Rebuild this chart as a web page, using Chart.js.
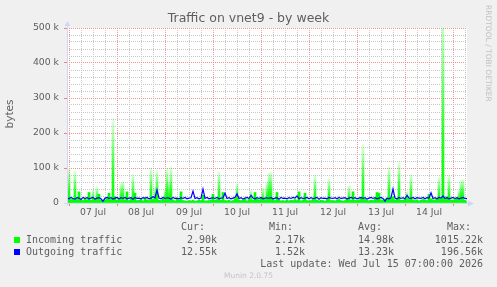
<!DOCTYPE html>
<html>
<head>
<meta charset="utf-8">
<title>Traffic on vnet9 - by week</title>
<script src="https://cdn.jsdelivr.net/npm/chart.js@4.4.1/dist/chart.umd.min.js"></script>
<style>
  html, body { margin: 0; padding: 0; background: #f0f0f0; }
  canvas { display: block; }
</style>
</head>
<body>
<canvas id="traffic" width="497" height="287"></canvas>
<script>
'use strict';

// ─── Data ─────────────────────────────────────────────────────────────────────
// hours counted from 07 Jul 00:00, one sample per hour (06 Jul 23:00 .. 15 Jul 07:00)
const FIRST_HOUR = -1;
const LAST_HOUR = 199;
const DAY_LABELS = ['07 Jul', '08 Jul', '09 Jul', '10 Jul', '11 Jul', '12 Jul', '13 Jul', '14 Jul'];
const HOUR_TICKS = [0, 6, 12, 18, 24, 30, 36, 42, 48, 54, 60, 66, 72, 78, 84, 90, 96, 102,
  108, 114, 120, 126, 132, 138, 144, 150, 156, 162, 168, 174, 180, 186, 192, 198];
const Y_TICKS = [0, 20, 40, 60, 80, 100, 120, 140, 160, 180, 200, 220, 240, 260, 280, 300,
  320, 340, 360, 380, 400, 420, 440, 460, 480, 500];

// kbytes per second
const INCOMING = [
  8, 98, 10, 12, 92, 10, 32, 9, 7, 14, 9, 30, 8, 37, 11, 46, 25, 8, 6, 9, 12, 28, 10, 242, 18,
  8, 11, 57, 62, 9, 32, 7, 12, 82, 28, 7, 8, 10, 6, 13, 9, 7, 100, 10, 45, 94, 8, 7, 12,
  40, 100, 60, 104, 9, 6, 11, 8, 32, 7, 6, 5, 7, 6, 8, 5, 6, 8, 7, 22, 6, 6, 7, 9,
  25, 8, 10, 90, 8, 30, 7, 6, 8, 5, 7, 12, 56, 9, 7, 8, 11, 6, 10, 37, 8, 30, 12, 9,
  14, 43, 10, 60, 85, 90, 11, 7, 30, 8, 6, 7, 5, 8, 6, 8, 7, 10, 7, 32, 6, 9, 28, 7,
  6, 7, 11, 80, 8, 6, 8, 7, 5, 9, 70, 7, 7, 6, 8, 10, 7, 5, 7, 12, 51, 8, 32, 8,
  7, 9, 14, 168, 10, 8, 6, 8, 7, 12, 30, 28, 9, 8, 11, 14, 104, 12, 18, 9, 10, 118, 8, 8,
  12, 35, 10, 82, 9, 7, 9, 6, 8, 10, 8, 7, 25, 12, 9, 9, 14, 75, 12, 560, 10, 18, 80, 9,
  8, 11, 14, 38, 65, 68, 8, 3
];
const OUTGOING = [
  15, 12, 16, 13, 11, 15, 14, 10, 16, 13, 15, 12, 14, 16, 11, 14, 15, 12, 5, 14, 16, 13, 15, 11, 14,
  16, 12, 15, 13, 16, 12, 14, 15, 11, 16, 13, 14, 12, 15, 14, 16, 12, 14, 18, 15, 37, 14, 12, 16,
  13, 15, 14, 11, 16, 13, 14, 12, 15, 13, 16, 12, 14, 15, 34, 13, 15, 12, 14, 40, 13, 16, 12, 14,
  15, 13, 16, 12, 14, 15, 28, 13, 15, 12, 14, 16, 26, 13, 15, 11, 14, 16, 13, 22, 14, 12, 15, 13,
  16, 12, 14, 15, 13, 16, 12, 14, 15, 11, 16, 13, 14, 12, 15, 13, 16, 14, 20, 12, 15, 13, 14, 16,
  12, 15, 13, 14, 16, 11, 15, 13, 14, 12, 16, 14, 13, 15, 12, 16, 13, 14, 15, 12, 14, 16, 13, 15,
  12, 14, 16, 13, 15, 11, 14, 16, 13, 15, 12, 14, 16, 13, 5, 14, 12, 15, 40, 14, 12, 16, 13, 15,
  12, 22, 14, 13, 16, 12, 15, 14, 13, 16, 12, 15, 14, 29, 13, 15, 12, 16, 14, 20, 13, 15, 12, 14,
  16, 13, 15, 12, 14, 16, 13, 12.5
];

const SERIES_NAMES  = ['Incoming traffic', 'Outgoing traffic'];
const SERIES_COLORS = ['#00ff00', '#0000ff'];
const STAT_HEADS = ['Cur:', 'Min:', 'Avg:', 'Max:'];
const STAT_CUR = ['2.90k', '12.55k'];
const STAT_MIN = ['2.17k', '1.52k'];
const STAT_AVG = ['14.98k', '13.23k'];
const STAT_MAX = ['1015.22k', '196.56k'];
const LAST_UPDATE = 'Last update: Wed Jul 15 07:00:00 2026';

// ─── Look ─────────────────────────────────────────────────────────────────────
const FONT_COLOR = '#5e5e5e';
const AXIS_COLOR = '#cfd6f8';
const MAJOR_GRID = '#eb9595';
const MINOR_GRID = '#c8c8c8';
const SANS = "'DejaVu Sans', sans-serif";
const MONO = "'DejaVu Sans Mono', monospace";

// tall bars fade out towards their top, short ones stay solid
function fadeGreen(c) {
  const chart = c.chart;
  if (!chart.chartArea || !c.parsed) return SERIES_COLORS[0];
  const y = chart.scales.y;
  const base = y.getPixelForValue(0);
  const top = y.getPixelForValue(c.parsed.y);
  if (!(base - top > 12)) return SERIES_COLORS[0];
  const g = chart.ctx.createLinearGradient(0, base, 0, top);
  g.addColorStop(0, 'rgba(0,255,0,1)');
  g.addColorStop(0.35, 'rgba(0,255,0,0.85)');
  g.addColorStop(1, 'rgba(0,255,0,0.1)');
  return g;
}

const isMajorHour = c => !!c.tick && c.tick.value % 24 === 0;
const isMajorY = c => !!c.tick && c.tick.value % 100 === 0;

// ─── Frame, axes and text (rrdtool style) ─────────────────────────────────────
const frame = {
  id: 'frame',
  beforeDraw(chart) {
    const { ctx, chartArea: a } = chart;
    ctx.save();
    ctx.fillStyle = '#f0f0f0';
    ctx.fillRect(0, 0, chart.width, chart.height);
    ctx.fillStyle = '#ffffff';
    ctx.fillRect(a.left, a.top, a.right - a.left, a.bottom - a.top);
    ctx.restore();
  },
  afterDatasetsDraw(chart) {
    const { ctx, chartArea: a } = chart;
    ctx.save();
    ctx.strokeStyle = AXIS_COLOR;
    ctx.fillStyle = AXIS_COLOR;
    ctx.lineWidth = 1;
    ctx.beginPath();
    ctx.moveTo(a.left - 3, a.bottom + 0.5);
    ctx.lineTo(a.right + 2, a.bottom + 0.5);
    ctx.moveTo(a.left + 0.5, a.bottom + 3);
    ctx.lineTo(a.left + 0.5, a.top - 3);
    ctx.stroke();
    ctx.beginPath();
    ctx.moveTo(a.right + 7, a.bottom + 0.5);
    ctx.lineTo(a.right + 1, a.bottom - 2.5);
    ctx.lineTo(a.right + 1, a.bottom + 3.5);
    ctx.fill();
    ctx.beginPath();
    ctx.moveTo(a.left + 0.5, a.top - 7);
    ctx.lineTo(a.left - 2.5, a.top - 2);
    ctx.lineTo(a.left + 3.5, a.top - 2);
    ctx.fill();
    ctx.restore();
  },
  afterDraw(chart) {
    const ctx = chart.ctx;
    ctx.save();
    ctx.fillStyle = FONT_COLOR;
    ctx.textBaseline = 'middle';

    ctx.font = '12.5px ' + SANS;
    ctx.textAlign = 'center';
    ctx.fillText('Traffic on vnet9 - by week', 248.5, 19);

    ctx.save();
    ctx.translate(10.5, 114);
    ctx.rotate(-Math.PI / 2);
    ctx.font = '10.5px ' + SANS;
    ctx.fillText('bytes', 0, 0);
    ctx.restore();

    ctx.save();
    ctx.translate(488, 5);
    ctx.rotate(Math.PI / 2);
    ctx.font = '7.5px ' + SANS;
    ctx.textAlign = 'left';
    ctx.fillStyle = '#c0c0c0';
    ctx.fillText('RRDTOOL / TOBI OETIKER', 0, 0);
    ctx.restore();

    // legend
    ctx.font = '10px ' + MONO;
    ctx.textAlign = 'left';
    const headX = [181, 269, 358, 447];
    const valX = [217, 305, 394, 483];
    STAT_HEADS.forEach((h, i) => ctx.fillText(h, headX[i], 227.5));
    const cols = [STAT_CUR, STAT_MIN, STAT_AVG, STAT_MAX];
    SERIES_NAMES.forEach((name, r) => {
      const yc = 240 + r * 12.2;
      ctx.fillStyle = SERIES_COLORS[r];
      ctx.fillRect(14, Math.round(yc) - 3, 6, 6);
      ctx.fillStyle = FONT_COLOR;
      ctx.textAlign = 'left';
      ctx.fillText(name, 26, yc);
      ctx.textAlign = 'right';
      cols.forEach((col, i) => ctx.fillText(col[r], valX[i], yc));
    });
    ctx.textAlign = 'right';
    ctx.fillText(LAST_UPDATE, 483, 264);

    ctx.font = '7.5px ' + SANS;
    ctx.textAlign = 'center';
    ctx.fillStyle = '#c4c4c4';
    ctx.fillText('Munin 2.0.75', 248.5, 276);
    ctx.restore();
  }
};

// ─── Chart ────────────────────────────────────────────────────────────────────
const chart = new Chart(document.getElementById('traffic'), {
  type: 'bar',
  data: {
    datasets: [
      {
        type: 'line',
        label: SERIES_NAMES[1],
        data: OUTGOING.map((v, i) => ({ x: FIRST_HOUR + i, y: v })),
        borderColor: SERIES_COLORS[1],
        borderWidth: 1.2,
        pointRadius: 0,
        tension: 0,
        fill: false,
        order: 0,
      },
      {
        type: 'bar',
        label: SERIES_NAMES[0],
        data: INCOMING.map((v, i) => ({ x: FIRST_HOUR + i, y: v })),
        backgroundColor: fadeGreen,
        borderWidth: 0,
        barPercentage: 1,
        categoryPercentage: 1,
        order: 1,
      }
    ]
  },
  options: {
    responsive: false,
    animation: false,
    events: [],
    layout: { padding: { left: 0, top: 28, right: 30, bottom: 64 } },
    plugins: {
      legend: { display: false },
      tooltip: { enabled: false },
      title: { display: false }
    },
    scales: {
      x: {
        type: 'linear',
        min: FIRST_HOUR,
        max: LAST_HOUR,
        offset: false,
        afterBuildTicks: s => { s.ticks = HOUR_TICKS.map(v => ({ value: v })); },
        afterFit: s => { s.height = 20; },
        grid: {
          offset: false,
          lineWidth: 1,
          color: c => isMajorHour(c) ? MAJOR_GRID : MINOR_GRID,
          tickLength: 3,
          tickColor: c => isMajorHour(c) ? '#f08080' : 'rgba(0,0,0,0)',
        },
        border: { display: false, dash: [1, 1] },
        ticks: {
          autoSkip: false,
          maxRotation: 0,
          minRotation: 0,
          padding: 1,
          color: FONT_COLOR,
          font: { family: SANS, size: 9.3 },
          callback: v => (v % 24 === 12) ? DAY_LABELS[(v - 12) / 24] : '',
        }
      },
      y: {
        type: 'linear',
        min: 0,
        max: 500,
        afterBuildTicks: s => { s.ticks = Y_TICKS.map(v => ({ value: v })); },
        afterFit: s => { s.width = 67; },
        grid: {
          lineWidth: 1,
          color: c => isMajorY(c) ? MAJOR_GRID : MINOR_GRID,
          tickLength: 3,
          tickColor: c => isMajorY(c) ? '#f08080' : 'rgba(0,0,0,0)',
        },
        border: { display: false, dash: [1, 1] },
        ticks: {
          autoSkip: false,
          padding: 5,
          color: FONT_COLOR,
          font: { family: SANS, size: 9.3 },
          callback: v => (v % 100 === 0) ? (v === 0 ? '0' : v + ' k') : '',
        }
      }
    }
  },
  plugins: [frame]
});
chart.update();
</script>
</body>
</html>
